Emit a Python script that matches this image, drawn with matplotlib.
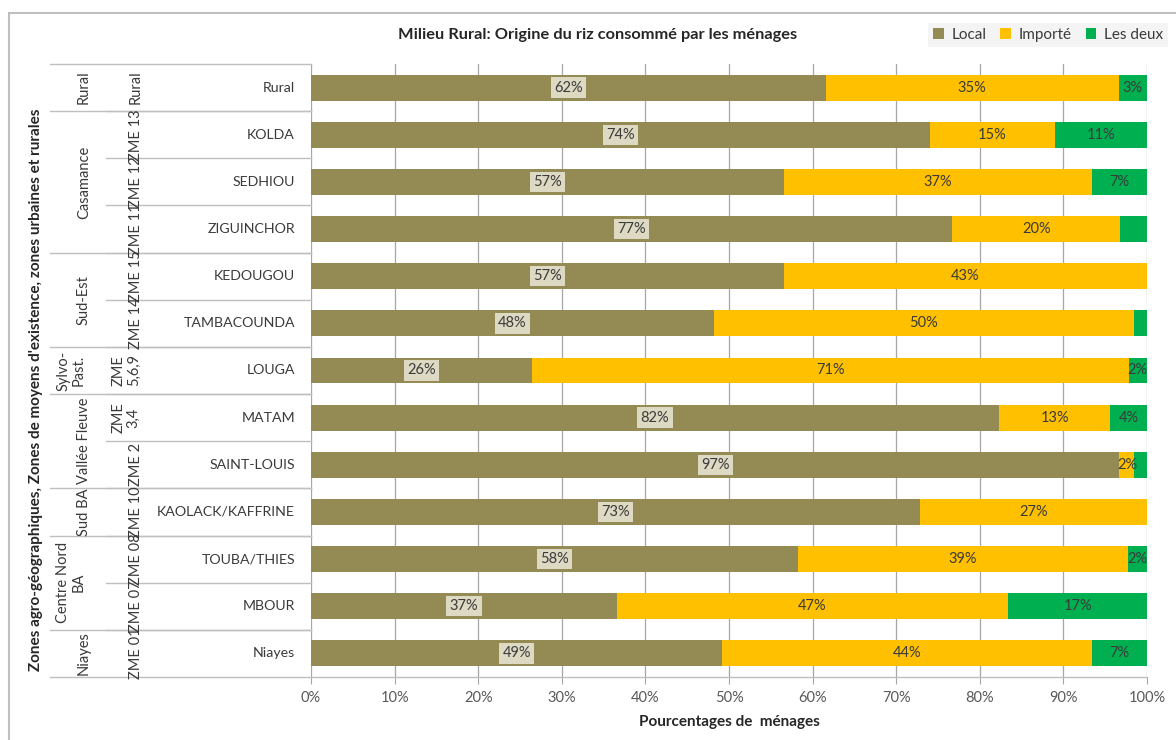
import matplotlib
matplotlib.use("Agg")
import matplotlib.pyplot as plt
from matplotlib.patches import Patch, Rectangle
from matplotlib.transforms import blended_transform_factory

plt.rcParams['font.family'] = ['Lato', 'DejaVu Sans']

# data (percent of households), top row first
names = ["Rural", "KOLDA", "SEDHIOU", "ZIGUINCHOR", "KEDOUGOU", "TAMBACOUNDA", "LOUGA",
         "MATAM", "SAINT-LOUIS", "KAOLACK/KAFFRINE", "TOUBA/THIES", "MBOUR", "Niayes"]
zme = ["Rural", "ZME 13", "ZME 12", "ZME 11", "ZME 15", "ZME 14", "ZME\n5,6,9",
       "ZME\n3,4", "ZME 2", "ZME 10", "ZME 08", "ZME 07", "ZME 01"]
groups = ["Rural", "Casamance", "Sud-Est", "Sylvo-\nPast.", "Vallée Fleuve", "Sud BA",
          "Centre Nord\nBA", "Niayes"]
group_sizes = [1, 3, 2, 1, 2, 1, 2, 1]

local = [61.6, 74.0, 56.6, 76.7, 56.6, 48.2, 26.4, 82.3, 96.7, 72.8, 58.3, 36.6, 49.2]
importe = [35.0, 15.0, 36.8, 20.1, 43.4, 50.2, 71.4, 13.3, 1.8, 27.2, 39.4, 46.8, 44.2]
deux = [3.4, 11.0, 6.6, 3.2, 0.0, 1.6, 2.2, 4.4, 1.5, 0.0, 2.3, 16.6, 6.6]
deux_labelled = [True, True, True, False, False, False, True, True, False, False, True, True, True]

series = ["Local", "Importé", "Les deux"]
colors = ["#948a54", "#ffc000", "#00b050"]

W, H = 1176, 740
fig = plt.figure(figsize=(W / 100, H / 100), dpi=100)
ax = fig.add_axes([311 / W, 1 - 677 / H, (1147 - 311) / W, (677 - 64) / H])

def px(x):
    return x / W

txt = "#3a3a3a"
line_col = "#bfbfbf"
grid_col = "#a6a6a6"

y = list(range(len(names)))
left = [0] * len(names)
for vals, col, name in zip([local, importe, deux], colors, series):
    ax.barh(y, vals, left=left, height=0.55, color=col, label=name, zorder=3)
    for i, v in enumerate(vals):
        if v <= 0:
            continue
        cx = left[i] + v / 2
        s = f"{round(v)}%"
        if name == "Local":
            ax.text(cx, i, s, ha="center", va="center", fontsize=10.5, color=txt, zorder=4,
                    bbox=dict(boxstyle="square,pad=0.22", fc="#ddd9c3", ec="none"))
        elif name == "Importé":
            ax.text(cx, i, s, ha="center", va="center", fontsize=10.5, color=txt, zorder=4)
        elif deux_labelled[i]:
            ax.text(cx, i, s, ha="center", va="center", fontsize=10.5, color=txt, zorder=4)
    left = [a + b for a, b in zip(left, vals)]

ax.set_xlim(0, 100)
ax.set_ylim(len(names) - 0.5, -0.5)
ax.set_xticks(range(0, 101, 10))
ax.set_xticklabels([f"{t}%" for t in range(0, 101, 10)], fontsize=10.5, color="#595959")
ax.set_yticks([])
ax.tick_params(axis="x", length=5, color=grid_col, pad=5)
for sp in ax.spines.values():
    sp.set_visible(False)
ax.xaxis.grid(True, color=grid_col, lw=0.9, zorder=0)
ax.set_axisbelow(True)
ax.set_xlabel("Pourcentages de  ménages", fontsize=11, fontweight="bold", color="#262626", labelpad=7)

# hierarchical category labels on the left
trans = blended_transform_factory(fig.transFigure, ax.transData)
for i, n in enumerate(names):
    ax.text(px(295), i, n, transform=trans, ha="right", va="center", fontsize=10.2, color=txt)
for i, z in enumerate(zme):
    zx = 126 if "\n" in z else 136
    ax.text(px(zx), i, z, transform=trans, ha="center", va="center", rotation=90,
            fontsize=10.5, color=txt, linespacing=1.1)
    if i > 0:
        ax.plot([px(106), px(311)], [i - 0.5, i - 0.5], transform=trans, clip_on=False,
                color=line_col, lw=1)

start = 0
for g, size in zip(groups, group_sizes):
    gx = 71 if "\n" in g else 84
    ax.text(px(gx), start + size / 2 - 0.5, g, transform=trans, ha="center", va="center",
            rotation=90, fontsize=10.5, color=txt, linespacing=1.1)
    ax.plot([px(50), px(311)], [start - 0.5, start - 0.5], transform=trans, clip_on=False,
            color=line_col, lw=1)
    start += size
ax.plot([px(50), px(1147)], [len(names) - 0.5] * 2, transform=trans, clip_on=False,
        color=line_col, lw=1)

fig.text(px(36), 1 - 390 / H,
         "Zones agro-géographiques, Zones de moyens d'existence, zones urbaines et rurales",
         rotation=90, ha="center", va="center", fontsize=11, fontweight="bold", color="#262626")

fig.text(px(598), 1 - 35 / H, "Milieu Rural: Origine du riz consommé par les ménages",
         ha="center", va="center", fontsize=11.8, fontweight="bold", color="#262626")

handles = [Patch(facecolor=c, edgecolor="none", label=s) for c, s in zip(colors, series)]
fig.legend(handles=handles, loc="upper right", bbox_to_anchor=(1.0, 1 - 15 / H), ncol=3,
           frameon=True, facecolor="#f2f2f2", edgecolor="none", fancybox=False,
           handlelength=0.7, handleheight=0.7, handletextpad=0.5, columnspacing=0.9,
           fontsize=11, labelcolor=txt, borderpad=0.35)

fig.patches.append(Rectangle((px(9), -0.05), 1.1, 1.05 - 13 / H, transform=fig.transFigure,
                             fill=False, ec="#bfbfbf", lw=1.5))

fig.savefig("out.png", dpi=100)
